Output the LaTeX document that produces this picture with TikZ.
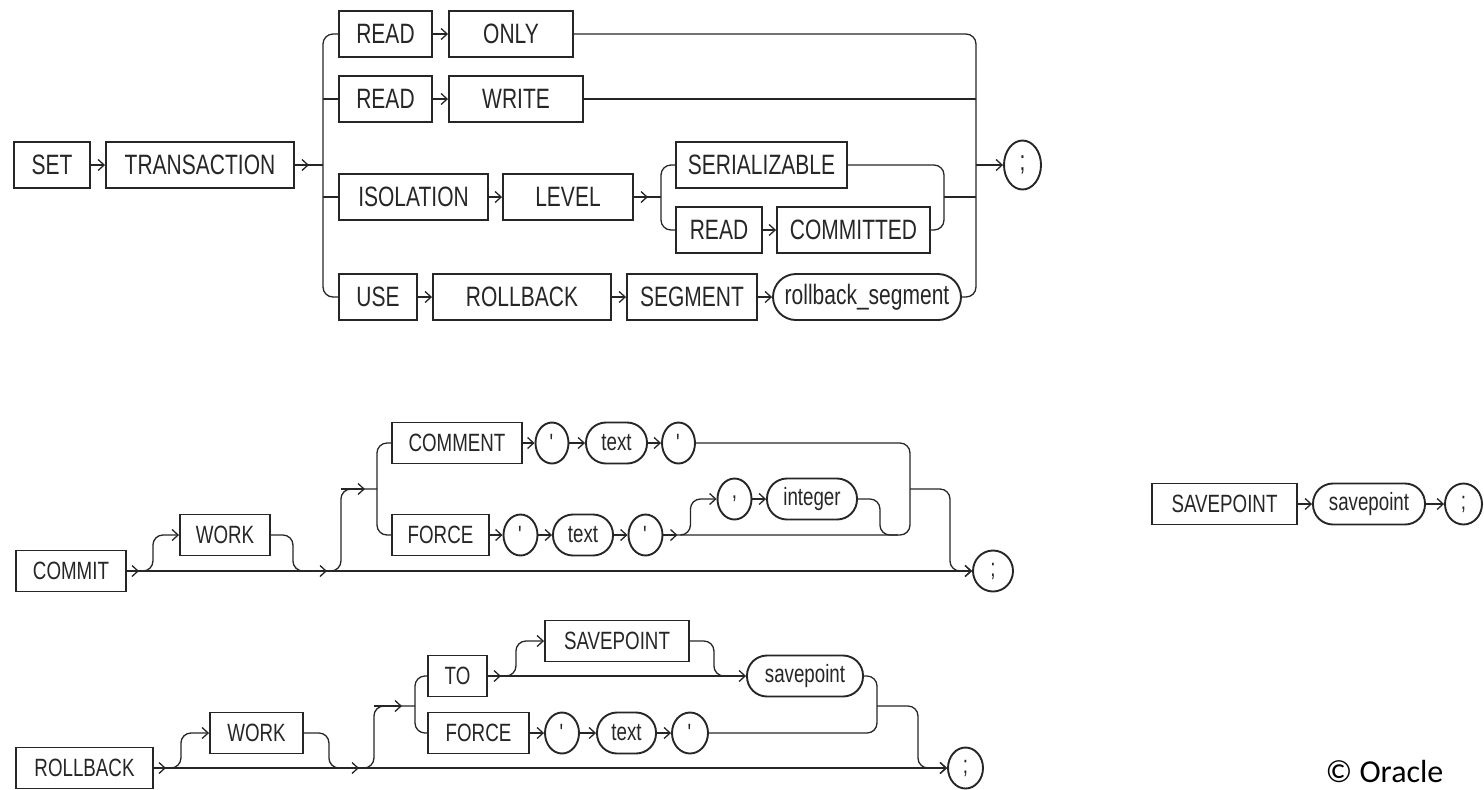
\documentclass[tikz,border=0pt]{standalone}
\usepackage{fontspec}
\setmainfont{Liberation Sans}[FakeStretch=0.75]
\newfontfamily\oraclefont{Carlito}
\usetikzlibrary{arrows.meta,shapes.geometric}

\begin{document}
\begin{tikzpicture}[x=0.5pt, y=-0.5pt,
    every node/.style={font=\fontsize{12.5}{14}\selectfont, inner sep=0pt},
    >={Straight Barb[length=3pt,width=5.5pt]},
    line width=0.65pt, color=black!85,
    kw/.style={draw, line width=0.95pt, minimum height=20.5pt},
    nt/.style={draw, line width=0.95pt, rounded corners=10pt, minimum height=20.5pt},
    pn/.style={draw, ellipse, line width=0.95pt, minimum height=20.5pt, minimum width=17pt},
    big/.style={font=\fontsize{14}{16}\selectfont, minimum height=23pt},
    rc/.style={rounded corners=5pt}]
\useasboundingbox (0,0) rectangle (1484,789);

% SET TRANSACTION
\node[kw, big, minimum width=38pt] (set) at (52,165) {SET};
\node[kw, big, minimum width=94pt] (trans) at (200,165) {TRANSACTION};
\node[kw, big, minimum width=46.5pt] (rdA) at (385.5,34) {READ};
\node[kw, big, minimum width=62pt] (only) at (511,34) {ONLY};
\node[kw, big, minimum width=46.5pt] (rdB) at (385.5,99) {READ};
\node[kw, big, minimum width=67pt] (write) at (516,99) {WRITE};
\node[kw, big, minimum width=74.5pt] (iso) at (413.5,197) {ISOLATION};
\node[kw, big, minimum width=65pt] (level) at (568,197) {LEVEL};
\node[kw, big, minimum width=85.5pt] (ser) at (761.5,165) {SERIALIZABLE};
\node[kw, big, minimum width=43pt] (rdC) at (719,230) {READ};
\node[kw, big, minimum width=76.5pt] (cmtd) at (853.5,230) {COMMITTED};
\node[kw, big, minimum width=39pt] (use) at (378,297) {USE};
\node[kw, big, minimum width=89pt] (rbs) at (522,297) {ROLLBACK};
\node[kw, big, minimum width=65pt] (seg) at (692,297) {SEGMENT};
\node[nt, big, rounded corners=11.5pt, minimum width=94pt] (rbseg) at (867,297) {rollback\_segment};
\node[pn, big, minimum width=18.5pt, minimum height=24.5pt] (endA) at (1022.5,165) {;};
\coordinate (splitA) at (323,165);
\coordinate (joinA) at (976,165);
\coordinate (splitB) at (661,197);
\coordinate (joinB) at (944,197);

\draw[->] (set) -- (trans);
\draw (trans.east) -- (splitA);
\draw[->] (trans.east) -- ++(14,0);
\draw[rc] (rdA.west) -| (splitA) |- (use.west);
\draw (rdB.west) -- (rdB.west -| splitA);
\draw (iso.west) -- (iso.west -| splitA);
\draw[->] (rdA) -- (only);
\draw[->] (rdB) -- (write);
\draw[->] (iso) -- (level);
\draw[->] (use) -- (rbs);
\draw[->] (rbs) -- (seg);
\draw[->] (seg) -- (rbseg);
\draw (level.east) -- (splitB);
\draw[->] (level.east) -- ++(14,0);
\draw[rc] (ser.west) -| (splitB) |- (rdC.west);
\draw[->] (rdC) -- (cmtd);
\draw[rc] (ser.east) -| (joinB) |- (cmtd.east);
\draw (joinB) -- (joinB -| joinA);
\draw[rc] (only.east) -| (joinA) |- (rbseg.east);
\draw (write.east) -- (write.east -| joinA);
\draw[->] (joinA) -- (endA);

% COMMIT
\node[kw, minimum width=55pt] (commit) at (71,571) {COMMIT};
\node[kw, minimum width=45pt] (workA) at (225,535) {WORK};
\node[kw, minimum width=65pt] (cmnt) at (457,443) {COMMENT};
\node[pn, minimum width=16.5pt] (qA) at (552,443) {\textquotesingle};
\node[nt, minimum width=30.5pt] (txtA) at (616.5,443) {text};
\node[pn, minimum width=16.5pt] (qB) at (678.5,443) {\textquotesingle};
\node[kw, minimum width=48.5pt] (frcA) at (440.5,535) {FORCE};
\node[pn] (qC) at (520.5,535) {\textquotesingle};
\node[nt, minimum width=30pt] (txtB) at (583,535) {text};
\node[pn] (qD) at (645.5,535) {\textquotesingle};
\node[pn] (comma) at (734.5,499) {,};
\node[nt, minimum width=45pt] (intg) at (812,499) {integer};
\node[pn, minimum width=20pt] (endB) at (993,571) {;};
\coordinate (splitC) at (377,489);
\coordinate (joinC) at (910,489);

\draw[->] (commit) -- (endB);
\draw[->] (commit.east) -- ++(12,0);
\draw[->, rc] (commit.east) ++(14,0) -| ++(12,-36) -- (workA.west);
\draw[rc] (workA.east) -| ++(22,36) -- ++(18,0);
\draw[->] (workA.east) ++(40,36) -- ++(16,0);
\draw[rc] (workA.east) ++(58,36) -| ++(12,-82) -- (splitC);
\draw[->] (workA.east) ++(70,-46) -- ++(24,0);
\draw[rc] (cmnt.west) -| (splitC) |- (frcA.west);
\draw[->] (cmnt) -- (qA);
\draw[->] (qA) -- (txtA);
\draw[->] (txtA) -- (qB);
\draw[->] (frcA) -- (qC);
\draw[->] (qC) -- (txtB);
\draw[->] (txtB) -- (qD);
\draw[rc] (qB.east) -| (joinC) |- (qD.east);
\draw[->] (qD.east) -- ++(14,0);
\draw[->, rc] (qD.east) ++(17,0) -| ++(10,-36) -- (comma.west);
\draw[->] (comma) -- (intg);
\draw[rc] (intg.east) -| ++(22,36) -- ++(18,0);
\draw[->, rc] (joinC) -| ++(40,40) |- (endB.west);

% ROLLBACK
\node[kw, minimum width=68.5pt] (rback) at (84.5,768) {ROLLBACK};
\node[kw, minimum width=46.5pt] (workB) at (256.5,733) {WORK};
\node[kw, minimum width=29.5pt] (toKw) at (457.5,676) {TO};
\node[kw, minimum width=50.5pt] (frcB) at (478.5,733) {FORCE};
\node[kw, minimum width=72pt] (svkw) at (617,641) {SAVEPOINT};
\node[nt, minimum width=58pt] (svp) at (805,676) {savepoint};
\node[pn] (qE) at (562,733) {\textquotesingle};
\node[nt, minimum width=29.5pt] (txtC) at (626.5,733) {text};
\node[pn, minimum width=18pt] (qF) at (690,733) {\textquotesingle};
\node[pn, minimum width=17.5pt] (endC) at (965.5,768) {;};
\coordinate (splitD) at (415,706);
\coordinate (joinD) at (877,706);

\draw[->] (rback) -- (endC);
\draw[->] (rback.east) -- ++(12,0);
\draw[->, rc] (rback.east) ++(15,0) -| ++(12,-35) -- (workB.west);
\draw[rc] (workB.east) -| ++(25,35) -- ++(20,0);
\draw[->] (workB.east) ++(40,35) -- ++(15,0);
\draw[rc] (workB.east) ++(58,35) -| ++(12,-62) -- (splitD);
\draw[->] (workB.east) ++(70,-27) -- ++(28,0);
\draw[rc] (toKw.west) -| (splitD) |- (frcB.west);
\draw[->] (toKw) -- (svp);
\draw[->] (toKw.east) -- ++(13,0);
\draw[->, rc] (toKw.east) ++(16,0) -| ++(12,-35) -- (svkw.west);
\draw[rc] (svkw.east) -| ++(24,35) -- ++(14,0);
\draw[->] (frcB) -- (qE);
\draw[->] (qE) -- (txtC);
\draw[->] (txtC) -- (qF);
\draw[rc] (svp.east) -| (joinD) |- (qF.east);
\draw[->, rc] (joinD) -| ++(41,30) |- (endC.west);

% SAVEPOINT
\node[kw, minimum width=72.5pt] (spkw) at (1224.5,504) {SAVEPOINT};
\node[nt, minimum width=56pt] (spname) at (1369,504) {savepoint};
\node[pn, minimum width=18.5pt] (endD) at (1463.5,504) {;};
\draw[->] (spkw) -- (spname);
\draw[->] (spname) -- (endD);

\node[font=\oraclefont\fontsize{16}{18}\selectfont, color=black] (copy) at (1384.5,771) {© Oracle};
\end{tikzpicture}
\end{document}
